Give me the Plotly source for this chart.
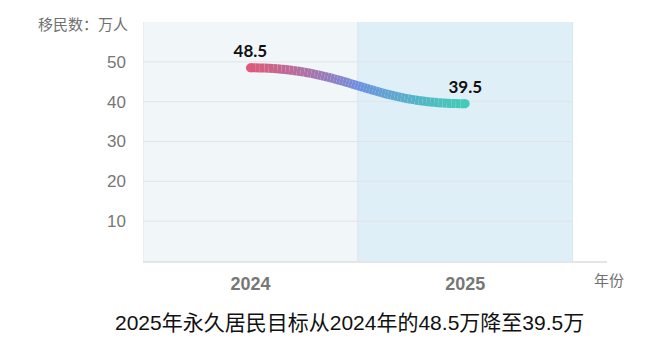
import plotly.graph_objects as go

years = ["2024", "2025"]
values = [48.5, 39.5]
y_ticks = [10, 20, 30, 40, 50]
band_colors = ["#f1f6f9", "#dfeff8"]
grad_stops = [(0.0, (222, 90, 122)), (0.5, (110, 142, 224)), (1.0, (66, 204, 182))]

def grad(t):
    for (t0, c0), (t1, c1) in zip(grad_stops[:-1], grad_stops[1:]):
        if t <= t1:
            f = (t - t0) / (t1 - t0)
            return "rgb(%d,%d,%d)" % tuple(round(a + (b - a) * f) for a, b in zip(c0, c1))
    return "rgb(%d,%d,%d)" % grad_stops[-1][1]

xs = list(range(len(years)))
fig = go.Figure()

shapes = []
# category bands
for i, col in enumerate(band_colors):
    shapes.append(dict(type="rect", xref="x", yref="paper", x0=i - 0.5, x1=i + 0.5,
                       y0=0, y1=1, fillcolor=col, line_width=0, layer="below"))
# gridlines limited to the band area
for v in y_ticks:
    shapes.append(dict(type="line", xref="x", yref="y", x0=-0.5, x1=len(years) - 0.5,
                       y0=v, y1=v, line=dict(color="#e1e4e7", width=1), layer="below"))
for i in range(len(years) + 1):
    shapes.append(dict(type="line", xref="x", yref="paper", x0=i - 0.5, x1=i - 0.5,
                       y0=0, y1=1, line=dict(color="#e0e3e6", width=1), layer="below"))

# smooth gradient curve between data points (cubic bezier, horizontal tangents)
N = 60
for k in range(len(xs) - 1):
    p0 = (xs[k], values[k]); p3 = (xs[k + 1], values[k + 1])
    dx = p3[0] - p0[0]
    p1 = (p0[0] + 0.45 * dx, p0[1]); p2 = (p3[0] - 0.45 * dx, p3[1])
    def bz(t):
        u = 1 - t
        return (u**3 * p0[0] + 3 * u * u * t * p1[0] + 3 * u * t * t * p2[0] + t**3 * p3[0],
                u**3 * p0[1] + 3 * u * u * t * p1[1] + 3 * u * t * t * p2[1] + t**3 * p3[1])
    pts = [bz(j / N) for j in range(N + 1)]
    for j in range(N):
        a, b = pts[j], pts[j + 1]
        shapes.append(dict(type="line", xref="x", yref="y", x0=a[0], y0=a[1], x1=b[0], y1=b[1],
                           line=dict(color=grad((j + 0.5) / N), width=9), layer="between"))

fig.add_trace(go.Scatter(
    x=xs, y=values, mode="markers+text",
    marker=dict(size=9, color=[grad(0), grad(1)], line_width=0),
    text=[str(v) for v in values], textposition="top center",
    textfont=dict(family="Lato, Noto Sans, sans-serif", size=17, color="#111111", weight="bold"),
    cliponaxis=False, hoverinfo="skip", showlegend=False))

fig.update_layout(
    width=660, height=351, margin=dict(l=143, r=53, t=22, b=90),
    paper_bgcolor="white", plot_bgcolor="white", shapes=shapes,
    xaxis=dict(range=[-0.5, 1.66], tickmode="array", tickvals=xs, ticktext=years,
               showgrid=False, zeroline=False, showline=True, linecolor="#e3e5e8", linewidth=1.5,
               tickfont=dict(family="Liberation Sans, sans-serif", size=18, color="#777777", weight="bold"),
               ticklabelstandoff=6, fixedrange=True),
    yaxis=dict(range=[0, 60], tickmode="array", tickvals=y_ticks,
               showgrid=False, zeroline=False, showline=False,
               tickfont=dict(family="Liberation Sans, sans-serif", size=17, color="#777777"),
               ticklabelstandoff=16, fixedrange=True),
    annotations=[
        dict(text="移民数：万人", xref="paper", yref="paper", x=-0.028, y=0.992,
             xanchor="right", yanchor="middle", showarrow=False,
             font=dict(family="Noto Sans CJK SC", size=15, color="#707070")),
        dict(text="年份", xref="paper", yref="paper", x=1.004, y=-0.078,
             xanchor="center", yanchor="middle", showarrow=False,
             font=dict(family="Noto Sans CJK SC", size=15, color="#707070")),
        dict(text="2025年永久居民目标从2024年的48.5万降至39.5万", xref="paper", yref="paper",
             x=0.444, y=-0.259, xanchor="center", yanchor="middle", showarrow=False,
             font=dict(family="Liberation Sans, Noto Sans CJK SC", size=21, color="#111111")),
    ],
)

fig.write_html("out.html")
